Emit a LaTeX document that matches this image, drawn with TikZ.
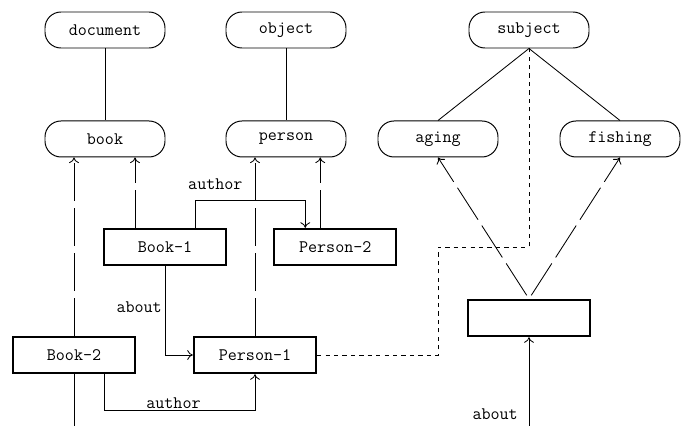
\documentclass[tikz,border=0pt]{standalone}
\usepackage{fontspec}
\usepackage{tikz}
\usetikzlibrary{arrows,arrows.meta,positioning,calc}

\begin{document}
\begin{tikzpicture}[
    >={To[length=4pt,width=7pt]},
    every node/.style={
        font=\ttfamily\fontsize{12.5}{14}\selectfont
    },
    concept/.style={
        draw,
        rounded corners=0.4cm,
        line width=0.7pt,
        minimum width=3cm,
        minimum height=0.9cm
    },
    inst/.style={
        draw,
        line width=1.6pt,
        minimum width=3.05cm,
        minimum height=0.9cm
    },
    link/.style={draw, line width=0.6pt},
    kindof/.style={link, ->, dash pattern=on 27pt off 5pt},
    rel/.style={link, ->},
    lbl/.style={inner sep=2pt}
]
\useasboundingbox (0,0) rectangle (17.25,-10.65);

% ---------------- Concepts ----------------
\node[concept] (document) at (2.625,-0.75) {document};
\node[concept] (object) at (7.15,-0.75) {object};
\node[concept] (subject) at (13.225,-0.75) {subject};
\node[concept, below=1.8cm of document] (book) {book};
\node[concept, below=1.8cm of object] (person) {person};
\node[concept, xshift=-2.275cm] (aging) at (subject |- book) {aging};
\node[concept, xshift=2.275cm] (fishing) at (subject |- book) {fishing};

% ---------------- Instances ----------------
\node[inst] (book1) at (4.125,-6.175) {Book-1};
\node[inst, right=1.15cm of book1] (person2) {Person-2};
\node[inst] (book2) at (1.85,-8.875) {Book-2};
\node[inst] (person1) at (6.375,-8.875) {Person-1};
\node[inst] (topic) at (13.225,-7.95) {};

\coordinate (book2in) at (book2.south |- 0,-10.65);
\coordinate (topicin) at (topic.south |- 0,-10.65);

% ---------------- Hierarchy ----------------
\draw[link] (document) -- (book);
\draw[link] (object) -- (person);
\draw[link] (subject.south) -- (aging.north);
\draw[link] (subject.south) -- (fishing.north);

% ---------------- Instance of ----------------
\draw[kindof] (book2.north) -- (book2.north |- book.south);
\draw[kindof] ([xshift=-0.75cm]book1.north)
    -- ([xshift=-0.75cm]book1.north |- book.south);
\draw[kindof] (person1.north) -- (person1.north |- person.south);
\draw[kindof] ([xshift=-0.375cm]person2.north)
    -- ([xshift=-0.375cm]person2.north |- person.south);
\draw[kindof, shorten <=3pt] (topic.north) -- (aging.south);
\draw[kindof, shorten <=3pt] (topic.north) -- (fishing.south);

% ---------------- Relations ----------------
\draw[rel] ([xshift=0.75cm]book1.north) -- ++(0,0.675)
    node[lbl, above right, xshift=-0.25cm, yshift=0.2cm] {author}
    -| ([xshift=-0.75cm]person2.north);
\draw[rel] (book1.south)
    |- node[lbl, left, pos=0.23] {about} (person1.west);
\draw[rel] ([xshift=0.75cm]book2.south) -- ++(0,-0.9)
    -| node[lbl, above, pos=0.23, inner sep=1pt] {author} (person1.south);
\draw[link, dashed] (person1.east) -| (aging |- book1) -| (subject.south);

% ---------------- From below ----------------
\draw[link] (book2.south) -- (book2in);
\draw[rel] (topicin)
    -- node[lbl, left, pos=0.13, xshift=-0.2cm] {about} (topic.south);

\end{tikzpicture}
\end{document}
